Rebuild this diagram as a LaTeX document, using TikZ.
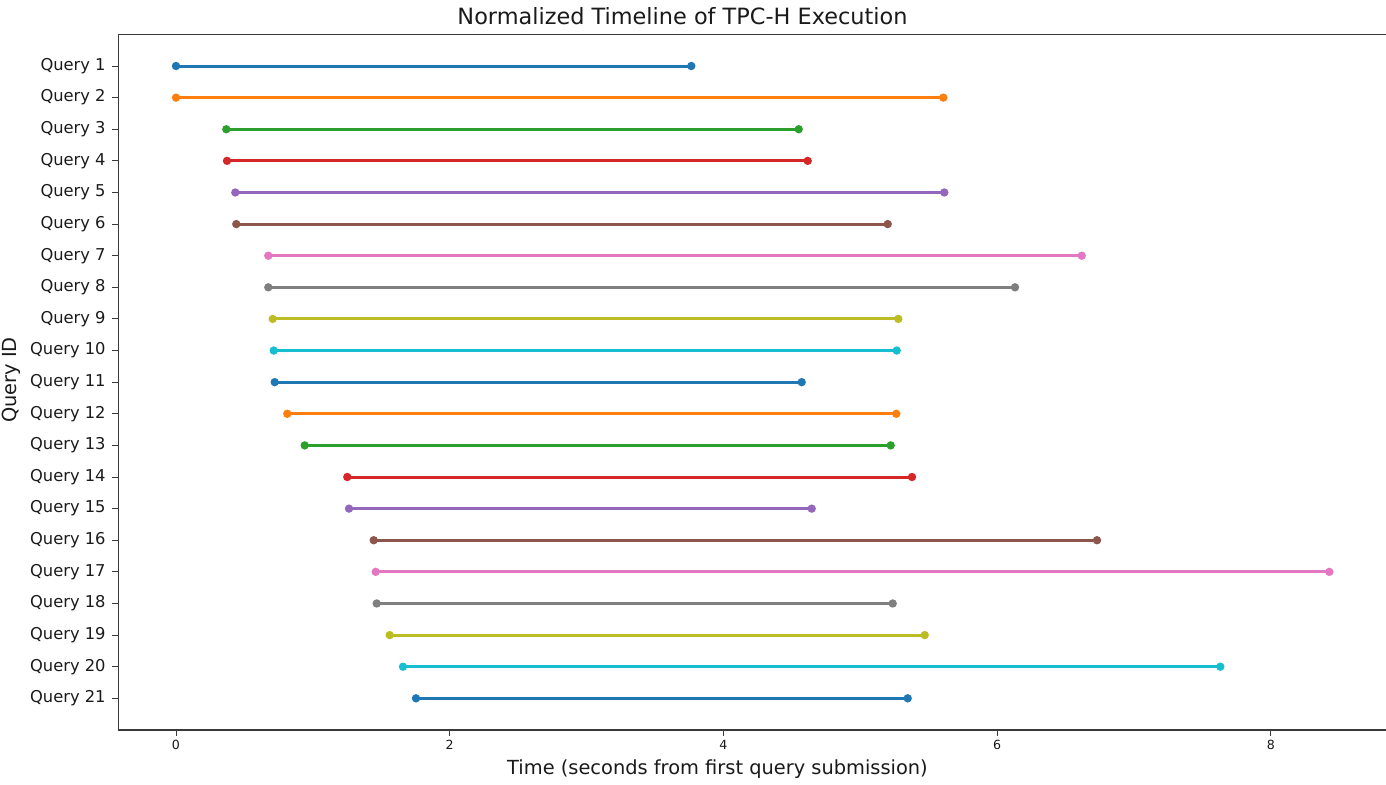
\documentclass[tikz,border=0pt]{standalone}
\usepackage{fontspec}
\setmainfont{DejaVu Sans}
\definecolor{c0}{HTML}{1F77B4}
\definecolor{c1}{HTML}{FF7F0E}
\definecolor{c2}{HTML}{2CA02C}
\definecolor{c3}{HTML}{D62728}
\definecolor{c4}{HTML}{9467BD}
\definecolor{c5}{HTML}{8C564B}
\definecolor{c6}{HTML}{E377C2}
\definecolor{c7}{HTML}{7F7F7F}
\definecolor{c8}{HTML}{BCBD22}
\definecolor{c9}{HTML}{17BECF}
\definecolor{ink}{HTML}{1A1A1A}
\definecolor{spine}{HTML}{3A3A3A}
\begin{document}
\begin{tikzpicture}[x=0.5pt,y=-0.5pt,
  spinestyle/.style={draw=spine,line width=0.75pt},
  tickstyle/.style={draw=spine,line width=0.5pt},
  ytl/.style={anchor=east,text=ink,font=\fontsize{8.15pt}{9pt}\selectfont,inner sep=0pt},
  xtl/.style={anchor=center,text=ink,font=\fontsize{6.3pt}{7pt}\selectfont,inner sep=0pt},
  bar/.style={line width=1.5pt},
  dot/.style={circle,inner sep=0pt,minimum size=4.2pt},
  titlestyle/.style={text=ink,font=\fontsize{11.2pt}{13pt}\selectfont,inner sep=0pt},
  labelstyle/.style={text=ink,font=\fontsize{9.7pt}{11pt}\selectfont,inner sep=0pt}]
\useasboundingbox[fill=white] (0,0) rectangle (1386,784);

% axes frame
\draw[spinestyle] (1385.5,34.4) -- (118.4,34.4) -- (118.4,730) -- (1385.5,730);

% x ticks: 136.85 px per second, origin at 176
\foreach \v in {0,2,4,6,8}{
  \coordinate (xt\v) at ({176+136.85*\v},730);
  \draw[tickstyle] (xt\v) -- ++(0,6);
  \node[xtl] (xl\v) at ({176+136.85*\v},745) {\v};
}

% query intervals: id / start / end / colour
\foreach \i/\xs/\xe/\col in {
  1/176/691.3/c0, 2/176/943.3/c1, 3/226.3/798.7/c2, 4/227/807.7/c3,
  5/235.3/944.3/c4, 6/236.3/887.7/c5, 7/268.3/1081.7/c6, 8/268.3/1015/c7,
  9/272.7/898.3/c8, 10/273.7/896.7/c9, 11/274.7/801.7/c0, 12/287.3/896.3/c1,
  13/304.7/890.7/c2, 14/347.3/912/c3, 15/349/811.7/c4, 16/373.7/1097/c5,
  17/375.7/1329.3/c6, 18/376.7/892.7/c7, 19/389.7/924.7/c8, 20/403/1220.3/c9,
  21/416/907.7/c0}{
  \pgfmathsetmacro{\yy}{66+(\i-1)*31.615}
  \coordinate (yt\i) at (118.4,\yy);
  \draw[tickstyle] (yt\i) -- ++(-6,0);
  \node[ytl] (yl\i) at (106,\yy) {Query \i};
  \coordinate (s\i) at (\xs,\yy);
  \coordinate (e\i) at (\xe,\yy);
  \draw[bar,draw=\col] (s\i) -- (e\i);
  \node[dot,fill=\col] (ms\i) at (s\i) {};
  \node[dot,fill=\col] (me\i) at (e\i) {};
}

% title and axis labels
\node[titlestyle] (title) at (682.5,16) {Normalized Timeline of TPC-H Execution};
\node[labelstyle] (xlab) at (717.5,769) {Time (seconds from first query submission)};
\node[labelstyle,rotate=90] (ylab) at (11,380) {Query ID};
\end{tikzpicture}
\end{document}
